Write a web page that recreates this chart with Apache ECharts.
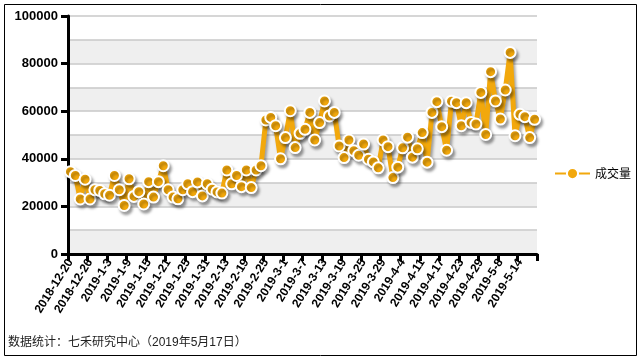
<!DOCTYPE html>
<html>
<head>
<meta charset="utf-8">
<script src="https://cdn.jsdelivr.net/npm/echarts@6/dist/echarts.min.js"></script>
<style>
html,body{margin:0;padding:0;background:#fff;}
#chart{width:638px;height:357px;}
</style>
</head>
<body>
<div id="chart"></div>
<script>
var categories = [
'2018-12-20','2018-12-21','2018-12-24','2018-12-25','2018-12-26','2018-12-27','2018-12-28',
'2019-1-2','2019-1-3','2019-1-4','2019-1-7','2019-1-8','2019-1-9','2019-1-10','2019-1-11',
'2019-1-14','2019-1-15','2019-1-16','2019-1-17','2019-1-18','2019-1-21','2019-1-22','2019-1-23',
'2019-1-24','2019-1-25','2019-1-28','2019-1-29','2019-1-30','2019-1-31','2019-2-1','2019-2-11',
'2019-2-12','2019-2-13','2019-2-14','2019-2-15','2019-2-18','2019-2-19','2019-2-20','2019-2-21',
'2019-2-22','2019-2-25','2019-2-26','2019-2-27','2019-2-28','2019-3-1','2019-3-4','2019-3-5',
'2019-3-6','2019-3-7','2019-3-8','2019-3-11','2019-3-12','2019-3-13','2019-3-14','2019-3-15',
'2019-3-18','2019-3-19','2019-3-20','2019-3-21','2019-3-22','2019-3-25','2019-3-26','2019-3-27',
'2019-3-28','2019-3-29','2019-4-1','2019-4-2','2019-4-3','2019-4-4','2019-4-8','2019-4-9',
'2019-4-10','2019-4-11','2019-4-12','2019-4-15','2019-4-16','2019-4-17','2019-4-18','2019-4-19',
'2019-4-22','2019-4-23','2019-4-24','2019-4-25','2019-4-26','2019-4-29','2019-4-30','2019-5-6',
'2019-5-7','2019-5-8','2019-5-9','2019-5-10','2019-5-13','2019-5-14','2019-5-15','2019-5-16','2019-5-17'
];
var volume = [
34600,33000,23100,31400,23100,27000,26700,25300,24700,33000,
27000,20400,31600,24200,26200,21000,30400,23900,30400,37100,
27000,23900,23200,27000,29500,26200,30300,24400,29500,27200,
26100,25600,35300,29500,33000,28300,35300,27900,35300,37100,
56300,57400,53900,40000,48900,60200,44700,50700,52400,59500,
47900,55200,64300,58000,59500,45400,40500,47900,43400,41500,
46200,39800,38700,36200,47900,45100,32100,36500,44600,49100,
40700,44200,51000,38600,59500,64000,53500,43600,64200,63600,
53900,63600,55300,54600,67900,50200,76600,64300,56700,68900,
84700,49700,58700,57700,48900,56600
];
var seriesName = '成交量';
var yTicks = [0, 20000, 40000, 60000, 80000, 100000];
var footnote = '数据统计：七禾研究中心（2019年5月17日）';

var chart = echarts.init(document.getElementById('chart'), null, {renderer:'canvas'});
var orange = '#f2a80c';
chart.setOption({
  animation:false,
  backgroundColor:'#ffffff',
  grid:{left:68, right:101, top:16, bottom:103, containLabel:false},
  legend:{
    data:[seriesName], left:549, top:162, itemWidth:35, itemHeight:14, itemGap:4,
    textStyle:{fontSize:12, color:'#000', fontFamily:'"Noto Sans CJK SC", sans-serif'}
  },
  xAxis:{
    type:'category', data:categories, boundaryGap:true,
    axisLine:{show:true, lineStyle:{color:'#000', width:3}},
    axisTick:{show:true, interval:3, length:7, lineStyle:{color:'#000', width:3}},
    axisLabel:{interval:3, rotate:58, margin:6, color:'#000', fontWeight:'bold', fontSize:12,
      fontFamily:'Arial, "Liberation Sans", sans-serif'},
    splitLine:{show:false}
  },
  yAxis:[
    {type:'value', min:0, max:100000, interval:10000,
     axisLine:{show:false}, axisTick:{show:false}, axisLabel:{show:false},
     splitLine:{show:true, lineStyle:{color:'#c8c8c8', width:1.5}},
     splitArea:{show:true, areaStyle:{color:['#efefef','#ffffff']}}},
    {type:'value', min:0, max:100000, interval:20000, position:'left',
     axisLine:{show:true, onZero:false, lineStyle:{color:'#000', width:3}},
     axisTick:{show:true, length:7, lineStyle:{color:'#000', width:3}},
     axisLabel:{margin:10, color:'#000', fontWeight:'bold', fontSize:13,
       fontFamily:'Arial, "Liberation Sans", sans-serif',
       formatter:function(v){ return yTicks.indexOf(v) >= 0 ? String(v) : ''; }},
     splitLine:{show:false}, splitArea:{show:false}}
  ],
  series:[{
    name:seriesName, type:'line', data:volume, yAxisIndex:0,
    symbol:'circle', symbolSize:11, showSymbol:true, showAllSymbol:true,
    lineStyle:{color:orange, width:5, shadowColor:'rgba(0,0,0,0.35)', shadowBlur:3, shadowOffsetX:2, shadowOffsetY:3},
    itemStyle:{color:orange, borderColor:'#ffffff', borderWidth:2, shadowColor:'rgba(0,0,0,0.35)', shadowBlur:3, shadowOffsetX:2, shadowOffsetY:3},
    emphasis:{disabled:true}
  }],
  graphic:[
    {type:'rect', left:2, top:2, shape:{width:632, height:351}, style:{fill:'none', stroke:'#000', lineWidth:1}, silent:true},
    {type:'text', left:8, top:337, style:{text:footnote, fontSize:12, fill:'#222', fontFamily:'Arial, "Noto Sans CJK SC", sans-serif'}}
  ]
});
</script>
</body>
</html>
